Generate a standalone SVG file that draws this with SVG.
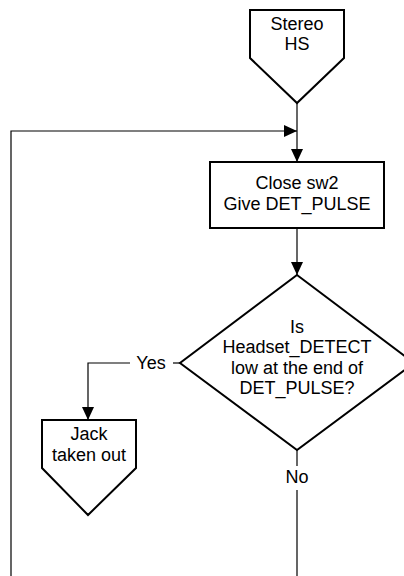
<svg xmlns="http://www.w3.org/2000/svg" width="404" height="576" viewBox="0 0 404 576">
  <style>
    .shape { fill: #ffffff; stroke: #000000; stroke-width: 2; stroke-linejoin: miter; }
    .wire { fill: none; stroke: #000000; stroke-width: 1.2; }
    .label { font-family: "Liberation Sans", Arial, sans-serif; font-size: 18px; fill: #000000; text-anchor: middle; }
  </style>
  <defs>
    <marker id="arrow" markerUnits="userSpaceOnUse" markerWidth="14" markerHeight="14" viewBox="0 0 14 14" refX="13" refY="7" orient="auto">
      <path d="M0,1 L13,7 L0,13 Z" fill="#000000"/>
    </marker>
  </defs>
  <rect width="404" height="576" fill="#ffffff"/>

  <!-- connectors -->
  <g id="connectors">
    <line class="wire" x1="297" y1="103" x2="297" y2="162" marker-end="url(#arrow)"/>
    <polyline class="wire" points="297,490 297,582 11,582 11,131 297,131" marker-end="url(#arrow)"/>
    <line class="wire" x1="297" y1="228" x2="297" y2="275" marker-end="url(#arrow)"/>
    <line class="wire" x1="180" y1="363" x2="173" y2="363"/>
    <polyline class="wire" points="130,363 88,363 88,420" marker-end="url(#arrow)"/>
    <line class="wire" x1="297" y1="450" x2="297" y2="466"/>
    <text class="label" x="151" y="369">Yes</text>
    <text class="label" x="297" y="483">No</text>
  </g>

  <!-- start: off-page connector -->
  <g id="stereo-hs">
    <polygon class="shape" points="250,10 344,10 344,58 297,103 250,58"/>
    <text class="label" x="297" y="30">Stereo</text>
    <text class="label" x="297" y="50">HS</text>
  </g>

  <!-- process step -->
  <g id="close-sw2">
    <rect class="shape" x="210" y="162" width="174" height="66"/>
    <text class="label" x="297" y="189">Close sw2</text>
    <text class="label" x="297" y="210">Give DET_PULSE</text>
  </g>

  <!-- decision -->
  <g id="detect-check">
    <polygon class="shape" points="297,275 414,363 297,450 180,363"/>
    <text class="label" x="297" y="333">Is</text>
    <text class="label" x="297" y="353">Headset_DETECT</text>
    <text class="label" x="297" y="374">low at the end of</text>
    <text class="label" x="297" y="394">DET_PULSE?</text>
  </g>

  <!-- exit: off-page connector -->
  <g id="jack-out">
    <polygon class="shape" points="42,420 136,420 136,468 88,515 42,468"/>
    <text class="label" x="89" y="440">Jack</text>
    <text class="label" x="89" y="461">taken out</text>
  </g>
</svg>
